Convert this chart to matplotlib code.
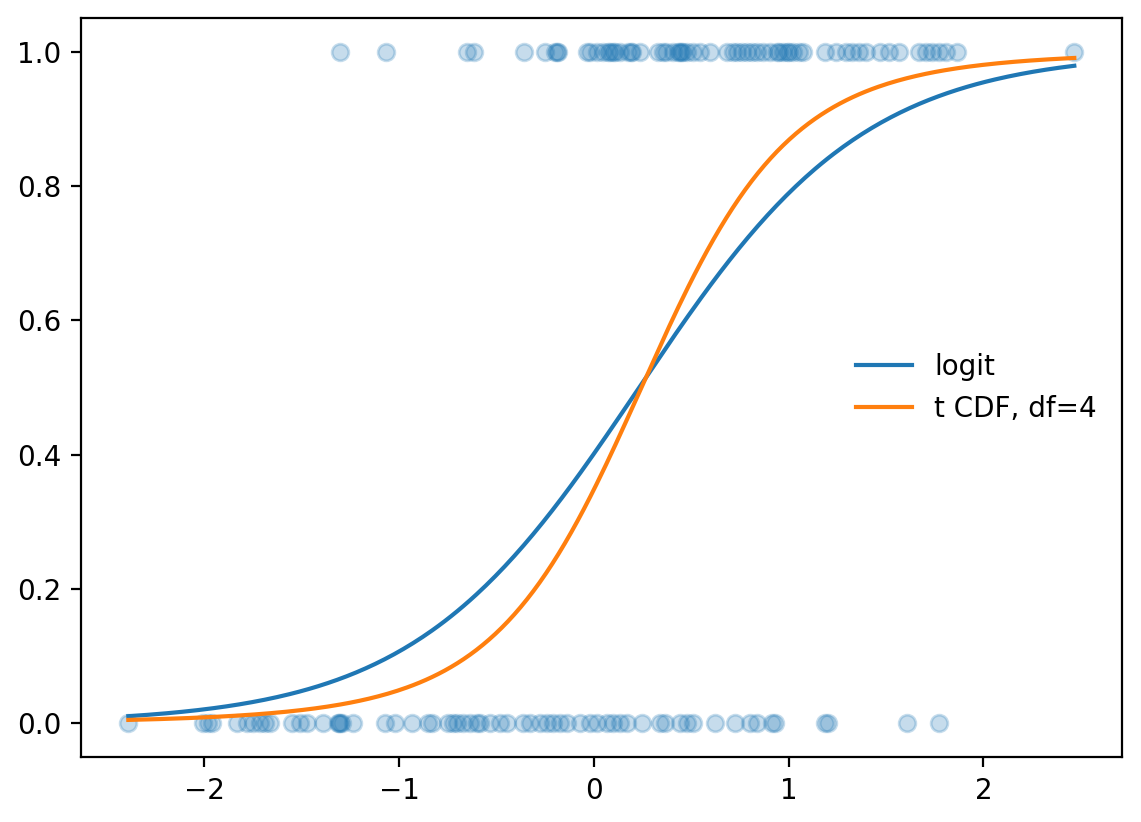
import numpy as np
import matplotlib
matplotlib.use("Agg")
import matplotlib.pyplot as plt

# --- データ ---
x_ones = [
    -1.303, -1.067, -0.651, -0.615, -0.359, -0.251, -0.200, -0.190, -0.185,
    -0.036, -0.021, 0.015, 0.046, 0.072, 0.085, 0.097, 0.110, 0.133, 0.174,
    0.190, 0.195, 0.236, 0.328, 0.354, 0.369, 0.405, 0.430, 0.441, 0.450,
    0.456, 0.477, 0.508, 0.544, 0.595, 0.682, 0.713, 0.733, 0.759, 0.785,
    0.810, 0.836, 0.867, 0.903, 0.938, 0.950, 0.969, 0.990, 1.000, 1.021,
    1.056, 1.072, 1.185, 1.246, 1.297, 1.328, 1.364, 1.400, 1.467, 1.518,
    1.569, 1.672, 1.708, 1.738, 1.774, 1.810, 1.867, 2.467,
]
x_zeros = [
    -2.390, -2.005, -1.979, -1.959, -1.831, -1.779, -1.749, -1.713, -1.687,
    -1.662, -1.549, -1.508, -1.472, -1.390, -1.313, -1.310, -1.305, -1.292,
    -1.236, -1.072, -1.021, -0.933, -0.851, -0.831, -0.749, -0.723, -0.703,
    -0.672, -0.636, -0.600, -0.585, -0.533, -0.482, -0.446, -0.364, -0.328,
    -0.277, -0.241, -0.210, -0.174, -0.138, -0.072, -0.021, 0.015, 0.067,
    0.097, 0.133, 0.169, 0.246, 0.338, 0.364, 0.441, 0.477, 0.508, 0.621,
    0.723, 0.800, 0.836, 0.913, 0.928, 1.185, 1.200, 1.610, 1.774,
]

# フィット済みパラメータ（切片, 傾き）
logit_params = [-0.40, 1.72]
tcdf_params = [-0.42, 1.72]


def t4_cdf(t):
    """自由度4のt分布の累積分布関数"""
    u = t / np.sqrt(1 + t**2 / 4)
    return 0.5 + 0.375 * u * (1 - u**2 / 12)


x = np.array(x_ones + x_zeros)
y = np.array([1.0] * len(x_ones) + [0.0] * len(x_zeros))
order = np.argsort(x)
x, y = x[order], y[order]

xs = np.linspace(x.min(), x.max(), 300)
p_logit = 1 / (1 + np.exp(-(logit_params[0] + logit_params[1] * xs)))
p_t = t4_cdf(tcdf_params[0] + tcdf_params[1] * xs)

fig, ax = plt.subplots(figsize=(5.705, 4.11), dpi=200)
fig.subplots_adjust(left=0.071, right=0.983, top=0.978, bottom=0.079)

ax.scatter(x, y, alpha=0.25, s=36)
ax.plot(xs, p_logit, label='logit')
ax.plot(xs, p_t, label='t CDF, df=4')
ax.legend(loc='center right', frameon=False)

fig.savefig('out.png', dpi=200)
